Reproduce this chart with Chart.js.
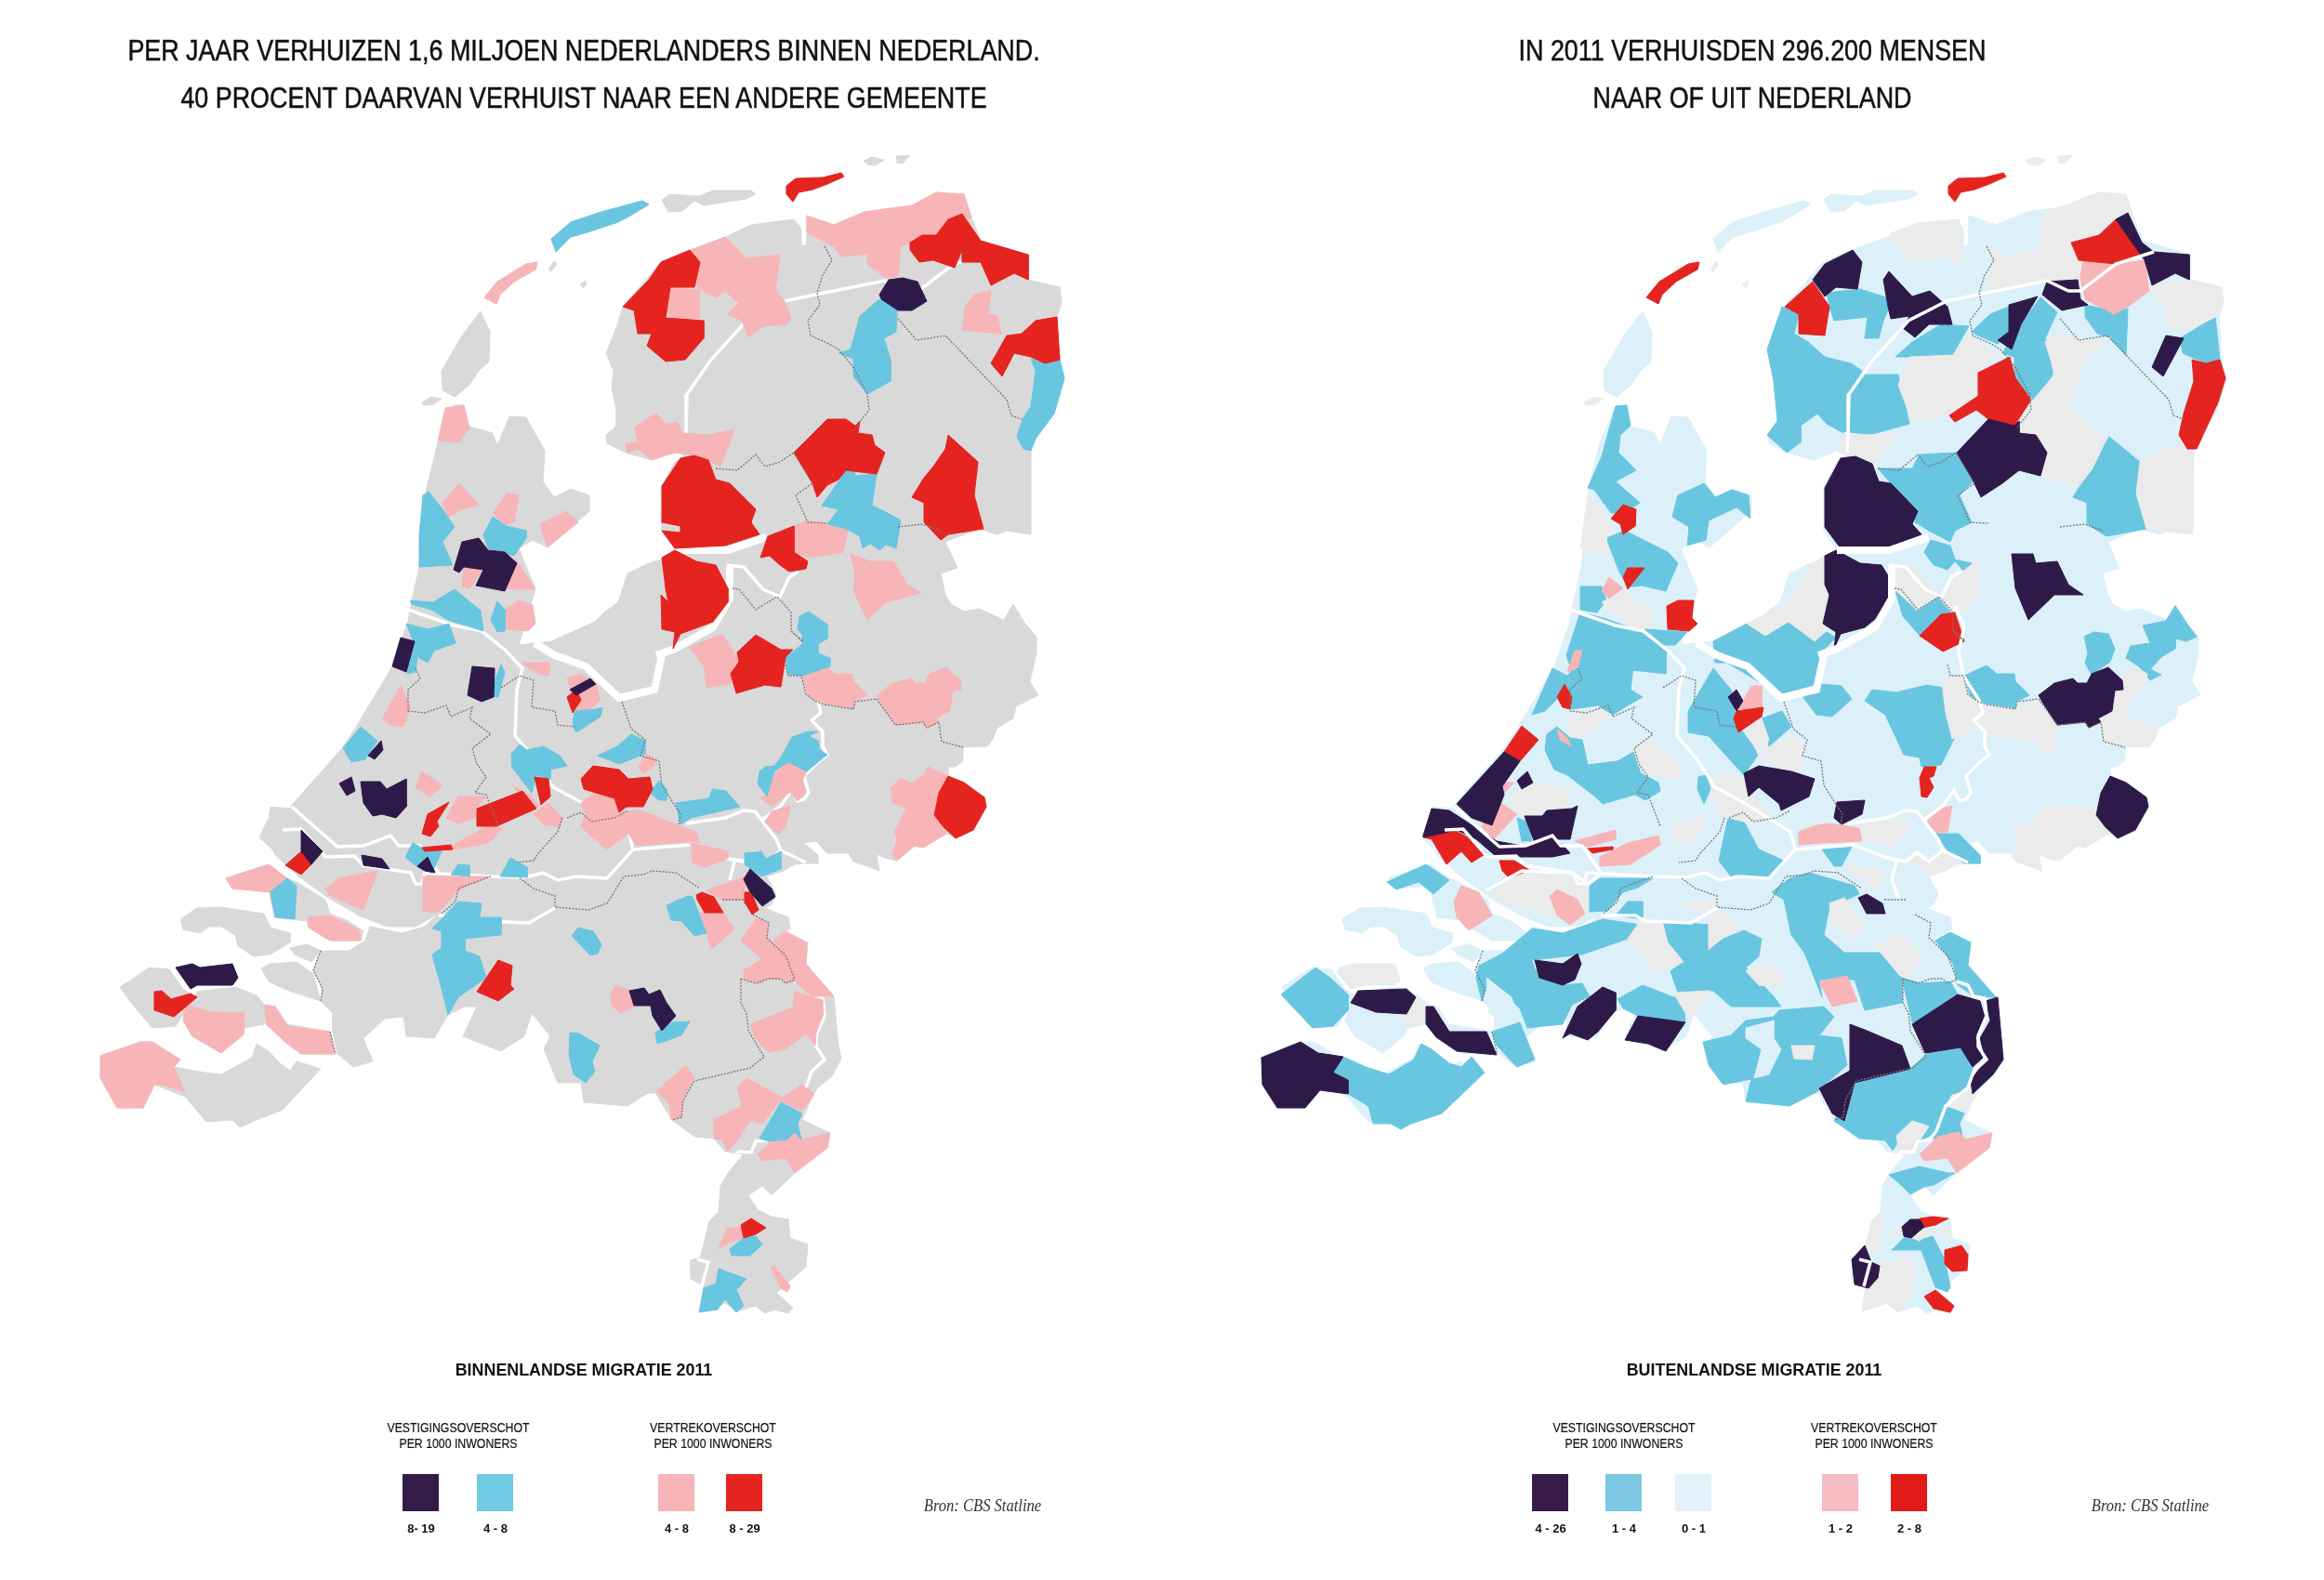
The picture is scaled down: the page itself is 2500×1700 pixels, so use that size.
<!DOCTYPE html>
<html>
<head>
<meta charset="utf-8">
<title>Migratie 2011</title>
<script src="https://cdn.jsdelivr.net/npm/chart.js@4"></script>
<style>
  html, body { margin: 0; padding: 0; background: #fff; }
  #page { position: relative; width: 2500px; height: 1700px; overflow: hidden; }
  canvas { position: absolute; top: 0; }
  .txt { position: absolute; transform: translate(-50%, -50%) scaleX(var(--sx, 1)); white-space: nowrap; color: #111; text-align: center;
         font-family: "Liberation Sans", sans-serif; }
  .title { font-size: 31px; --sx: 0.867; -webkit-text-stroke: 0.5px #111; }
  .head { font-size: 19px; font-weight: bold; --sx: 0.94; }
  .sub { font-size: 15px; --sx: 0.82; -webkit-text-stroke: 0.2px #111; }
  .range { font-size: 13px; font-weight: bold; }
  .src { font-family: "Liberation Serif", serif; font-style: italic; font-size: 18px; color: #333; --sx: 0.92; }
  .swatch { position: absolute; top: 1586px; width: 39px; height: 40px; }
</style>
</head>
<body>
<div id="page">
  <canvas id="mapLeft" width="1250" height="1700" style="left:0"></canvas>
  <canvas id="mapRight" width="1250" height="1700" style="left:1250px"></canvas>
</div>
<script>
// colours
const GRAY = '#d9d9d9', GRAY2 = '#ebebeb', LIGHT = '#dcf0f9', BLUE = '#69c6e0', PINK = '#f7b5b8', RED = '#e5231f', DARK = '#2e1a48';

// all coordinates are map units, both panels share them
const mainland = [[489,436],[471,476],[459,525],[451,610],[441,656],[439,669],[421,719],[383,782],[368,805],[314,866],[312,870],[291,868],[289,880],[279,901],[293,914],[296,920],[319,941],[350,964],[386,985],[416,997],[447,997],[472,983],[457,997],[432,1004],[398,997],[393,1012],[375,1023],[345,1023],[337,1044],[347,1064],[345,1077],[358,1090],[358,1110],[363,1134],[380,1148],[401,1142],[391,1117],[414,1096],[434,1094],[437,1115],[467,1117],[482,1092],[500,1083],[513,1083],[498,1115],[539,1131],[564,1115],[572,1090],[592,1115],[585,1129],[600,1165],[625,1165],[628,1186],[675,1190],[697,1176],[705,1176],[723,1205],[747,1223],[768,1225],[780,1239],[800,1242],[783,1262],[775,1276],[773,1304],[763,1314],[757,1339],[753,1353],[743,1356],[743,1376],[757,1384],[753,1411],[780,1402],[793,1411],[813,1405],[823,1413],[833,1409],[848,1413],[853,1407],[835,1391],[867,1363],[869,1339],[850,1332],[848,1312],[830,1309],[815,1302],[805,1286],[820,1276],[830,1286],[855,1262],[890,1235],[893,1219],[863,1205],[875,1177],[880,1170],[895,1158],[905,1139],[902,1125],[897,1072],[867,1037],[869,1014],[848,1010],[843,1002],[850,1000],[848,987],[823,977],[830,973],[835,962],[825,943],[843,937],[855,930],[863,929],[880,929],[880,920],[865,907],[878,905],[890,918],[913,918],[918,927],[933,932],[946,937],[943,919],[952,923],[965,926],[985,910],[993,912],[1018,897],[1028,902],[1047,893],[1061,868],[1059,858],[1037,842],[1020,835],[1020,825],[1028,825],[1036,818],[1036,804],[1062,803],[1068,795],[1073,783],[1090,773],[1093,760],[1117,748],[1108,733],[1115,703],[1115,685],[1102,670],[1090,650],[1080,667],[1053,655],[1037,658],[1023,650],[1017,640],[1012,617],[1030,611],[1017,583],[1053,569],[1073,575],[1083,571],[1109,575],[1109,485],[1114,472],[1134,445],[1145,407],[1140,387],[1137,341],[1142,326],[1140,309],[1106,301],[1106,274],[1055,259],[1045,234],[1037,209],[1007,207],[981,221],[930,228],[897,242],[868,232],[868,263],[862,265],[862,246],[854,236],[808,242],[780,255],[742,269],[711,282],[670,330],[663,353],[652,380],[660,399],[658,418],[663,441],[663,458],[652,468],[653,477],[673,487],[701,495],[726,485],[737,491],[726,497],[712,523],[712,571],[726,591],[711,602],[698,606],[675,617],[665,648],[650,659],[640,669],[593,690],[575,692],[558,694],[576,634],[558,590],[573,581],[589,589],[634,550],[634,533],[614,526],[596,535],[584,518],[586,485],[566,449],[548,448],[535,479],[530,466],[502,458],[499,436]];

const islands = [
  [[517,335],[527,357],[526,389],[515,399],[505,414],[489,427],[476,420],[475,399],[497,361]],
  [[521,320],[535,303],[566,284],[578,282],[576,290],[553,303],[538,317],[534,327]],
  [[593,257],[614,239],[647,228],[691,216],[698,220],[678,232],[665,239],[635,249],[614,255],[598,271]],
  [[712,215],[720,209],[752,211],[767,205],[808,205],[813,209],[803,214],[757,221],[747,216],[734,227],[719,228]],
  [[846,200],[856,192],[885,191],[905,186],[908,190],[890,198],[874,204],[859,207],[853,217],[846,209]],
  [[129,1062],[161,1041],[182,1043],[197,1064],[207,1071],[202,1083],[189,1104],[164,1106],[141,1079]],
  [[212,1067],[253,1062],[276,1071],[286,1083],[284,1102],[263,1106],[262,1113],[238,1133],[207,1115],[197,1098],[202,1081]],
  [[189,1041],[207,1037],[215,1041],[250,1037],[256,1052],[250,1060],[212,1060],[205,1064]],
  [[286,1081],[296,1083],[309,1102],[355,1110],[360,1134],[324,1134],[305,1120],[290,1100]],
  [[194,989],[212,977],[238,976],[284,983],[291,998],[312,1004],[312,1014],[291,1027],[273,1029],[256,1018],[253,1006],[238,997],[225,997],[215,1004],[197,1000]],
  [[243,945],[250,956],[289,953],[291,968],[296,987],[330,991],[332,998],[355,1012],[388,1012],[391,1002],[375,991],[355,983],[350,968],[319,949],[309,945],[289,930]],
  [[312,1020],[330,1016],[345,1023],[335,1035],[317,1027]],
  [[281,1042],[291,1037],[319,1035],[337,1048],[345,1077],[314,1067],[299,1061],[289,1056]],
  [[108,1136],[151,1121],[164,1121],[194,1140],[187,1148],[220,1154],[238,1156],[271,1138],[276,1123],[289,1131],[301,1144],[312,1152],[319,1142],[345,1150],[304,1194],[276,1205],[258,1213],[250,1205],[222,1207],[199,1180],[166,1167],[154,1192],[126,1192],[108,1160]]
];

const smallIsles = [
  [[454,433],[464,427],[475,429],[466,435],[456,436]],
  [[590,290],[596,281],[599,284],[593,292]],
  [[624,306],[630,302],[630,307],[627,310]],
  [[929,173],[938,169],[951,172],[941,178],[933,177]],
  [[964,168],[979,167],[971,176],[965,175]]
];

// water and province lines
const wideWater = [
  [[726,592],[783,592],[824,578]],
  [[785,610],[785,644],[767,675],[726,698],[706,705]],
  [[575,692],[597,705],[630,717],[666,751],[704,742],[712,705]]
];
const rivers = [
  [[314,868],[363,911],[391,910],[420,899],[429,910],[452,910],[472,939]],
  [[304,893],[324,892],[350,922],[381,921],[391,931],[442,939],[447,951],[454,951],[457,939],[528,943],[564,944],[584,939],[600,947],[620,943],[653,945],[681,914],[743,909],[786,925],[804,926]],
  [[681,914],[676,895],[625,863],[595,847],[574,815],[554,792],[556,742],[562,719],[544,700],[518,679],[488,673],[439,656]],
  [[738,886],[780,880],[800,872],[812,873],[835,903],[840,915],[867,928]],
  [[840,915],[825,927],[812,917],[800,927],[780,923]],
  [[790,927],[785,947]],
  [[880,755],[883,767],[873,775],[885,787],[885,803],[890,812],[880,820],[865,835],[870,853],[865,860],[858,862],[852,850],[840,867],[820,882]],
  [[782,608],[800,610],[821,634],[839,642],[849,621],[859,615]],
  [[844,324],[877,317],[952,302],[975,313],[988,313],[1026,284],[1067,271]],
  [[844,324],[803,345],[765,387],[739,424],[738,468],[737,487]],
  [[855,1056],[867,1060],[873,1072],[885,1074],[887,1093],[878,1114],[878,1126],[887,1140],[873,1153],[867,1170],[843,1190],[833,1217],[825,1227],[813,1228],[808,1240],[795,1239],[782,1251]],
  [[750,1355],[762,1358],[755,1384]],
  [[472,985],[509,985],[520,991],[569,993],[597,977]]
];
const riversRightOnly = [
  [[349,958],[387,937],[441,939],[458,951],[471,941]],
  [[853,652],[863,675],[857,700],[862,727],[880,755]],
  [[785,947],[793,968]]
];
const borders = [
  [[887,265],[895,280],[885,296],[879,315],[882,328],[869,345],[872,361],[892,370],[902,376],[918,395],[933,424],[935,441],[920,460]],
  [[966,343],[986,366],[1017,361],[1083,430],[1088,447],[1099,451]],
  [[770,504],[793,506],[813,489],[823,502],[839,497],[854,487],[874,520],[856,533],[869,562],[890,563]],
  [[966,567],[992,564],[1012,571]],
  [[788,633],[795,634],[813,656],[836,642],[851,659],[851,679],[864,690]],
  [[447,719],[452,730],[439,742],[439,765],[457,767],[480,759],[485,771],[508,761],[505,773],[528,790],[508,805],[513,822],[523,836],[511,853],[523,855],[536,889]],
  [[539,740],[559,727],[574,732],[572,761],[597,765],[600,780],[618,782]],
  [[669,755],[679,784],[694,796],[689,813],[709,819],[712,845],[732,876],[730,887]],
  [[605,880],[600,895],[579,918],[574,926],[556,928]],
  [[610,880],[625,874],[636,884],[661,880],[676,872]],
  [[528,943],[493,956],[490,970],[475,983]],
  [[559,945],[574,956],[597,964],[597,976],[633,979],[653,972],[671,943],[692,941],[702,937],[727,939],[753,956]],
  [[345,1023],[337,1044],[347,1064],[345,1077]],
  [[355,1110],[361,1134]],
  [[777,968],[800,968]],
  [[810,984],[827,993],[825,1009],[845,1028],[855,1054]],
  [[797,1053],[797,1079],[803,1090],[805,1109],[822,1137],[807,1149],[747,1163],[735,1184],[733,1202],[723,1205]],
  [[797,1053],[813,1058],[827,1053],[840,1053],[845,1058],[855,1054]],
  [[845,715],[848,727],[862,727],[867,747],[878,755],[887,758],[918,763],[920,755],[943,752],[963,780],[993,777],[997,783],[1010,777],[1013,798],[1036,804]],
  [[863,690],[852,680]]
];

// left panel: binnenlandse migratie
const leftPink = [
  [[521,320],[535,303],[566,284],[578,282],[576,290],[553,303],[538,317],[534,327]],
  [[868,232],[897,242],[930,228],[981,221],[1007,207],[1037,209],[1045,234],[1020,236],[1007,253],[979,261],[969,265],[966,297],[953,299],[933,284],[933,273],[905,276],[897,265],[868,250]],
  [[1038,330],[1048,317],[1066,313],[1063,338],[1073,340],[1077,359],[1035,355]],
  [[719,309],[752,312],[752,342],[724,345],[715,330]],
  [[744,269],[780,255],[803,278],[839,274],[834,313],[844,324],[851,343],[846,349],[821,351],[805,363],[798,345],[783,338],[795,326],[780,313],[770,320],[752,311],[747,303],[753,282]],
  [[673,477],[686,476],[683,460],[706,444],[716,456],[729,454],[734,466],[762,468],[790,462],[775,502],[762,495],[747,489],[726,487],[701,495],[686,483],[675,487]],
  [[854,566],[869,560],[913,567],[907,594],[872,600],[854,594]],
  [[915,596],[936,604],[961,604],[976,629],[991,638],[953,648],[933,667],[918,636],[920,617]],
  [[742,696],[777,682],[795,711],[785,736],[760,740],[757,717]],
  [[863,727],[887,716],[898,725],[917,725],[918,733],[933,748],[919,755],[918,763],[887,757],[870,750]],
  [[943,748],[960,735],[980,730],[985,735],[995,735],[1000,725],[1018,718],[1033,732],[1034,742],[1025,743],[1022,765],[1007,773],[1010,777],[997,783],[993,777],[963,780],[948,757]],
  [[958,847],[970,837],[980,843],[995,833],[998,825],[1020,835],[1010,853],[1005,877],[1018,897],[993,912],[983,910],[965,926],[960,920],[965,903],[962,895],[975,870],[960,863]],
  [[828,837],[848,820],[868,830],[863,840],[867,853],[858,862],[850,852],[830,868],[818,858],[825,857]],
  [[823,885],[830,873],[850,867],[845,890],[837,897]],
  [[476,541],[494,520],[515,543],[497,548],[482,556]],
  [[471,474],[479,439],[499,436],[505,460],[494,476]],
  [[530,552],[545,531],[558,533],[553,562],[543,564]],
  [[581,564],[609,550],[622,562],[589,589]],
  [[499,612],[520,612],[505,633],[497,630]],
  [[553,600],[576,634],[553,634],[545,633],[556,606]],
  [[543,656],[558,646],[573,651],[576,671],[568,679],[543,677]],
  [[562,713],[592,713],[590,727],[574,723]],
  [[610,730],[625,725],[641,736],[646,753],[635,763],[618,763],[615,742]],
  [[411,773],[431,738],[442,761],[434,782],[421,780]],
  [[447,847],[454,830],[476,845],[462,857]],
  [[480,880],[493,857],[523,857],[511,870],[511,880],[493,886]],
  [[551,845],[572,857],[579,868],[572,870]],
  [[574,876],[590,864],[605,880],[602,890],[585,887]],
  [[687,826],[694,811],[707,817],[702,826],[692,832]],
  [[625,889],[630,876],[625,864],[643,851],[664,861],[666,874],[689,872],[727,887],[748,895],[753,907],[746,905],[685,910],[676,897],[653,914],[635,899]],
  [[743,907],[783,916],[783,924],[758,933],[745,928]],
  [[760,958],[802,943],[800,968],[777,968]],
  [[753,982],[778,982],[790,1000],[765,1021],[760,1004]],
  [[657,1068],[663,1060],[677,1065],[682,1082],[668,1090],[658,1082]],
  [[706,1174],[738,1146],[747,1160],[735,1181],[733,1202],[722,1205],[720,1188]],
  [[768,1205],[798,1190],[793,1170],[803,1160],[842,1181],[820,1209],[808,1205],[792,1228],[782,1239],[777,1226],[768,1225]],
  [[842,1181],[862,1167],[876,1177],[863,1195],[840,1185]],
  [[815,1242],[835,1223],[857,1218],[865,1226],[893,1219],[890,1235],[855,1262],[845,1246],[820,1249]],
  [[773,1344],[782,1321],[798,1321],[800,1332],[783,1337]],
  [[829,1363],[833,1362],[850,1384],[847,1390],[840,1386]],
  [[800,1044],[820,1032],[797,1012],[813,988],[827,993],[825,1009],[845,1028],[855,1054],[845,1058],[840,1053],[827,1053],[817,1058],[800,1053]],
  [[832,1012],[845,1002],[868,1014],[867,1037],[897,1072],[873,1072],[855,1056],[845,1028]],
  [[807,1102],[853,1084],[855,1067],[872,1072],[885,1076],[885,1093],[878,1111],[877,1125],[867,1112],[847,1128],[827,1132],[813,1118]],
  [[485,911],[523,889],[541,891],[526,907],[488,914]],
  [[243,945],[289,930],[309,945],[291,960],[250,956]],
  [[331,987],[355,985],[386,1000],[388,1012],[355,1012],[332,998]],
  [[350,956],[365,945],[406,937],[391,979],[355,964]],
  [[455,943],[526,943],[493,958],[472,981],[455,981]],
  [[197,1098],[199,1081],[228,1089],[263,1090],[262,1113],[238,1133],[207,1115]],
  [[285,1081],[296,1083],[309,1104],[355,1110],[360,1134],[324,1134],[307,1121],[286,1102]],
  [[108,1136],[151,1121],[164,1121],[194,1140],[187,1148],[199,1175],[174,1167],[166,1167],[154,1192],[126,1192],[108,1160]]
];
const leftBlue = [
  [[593,257],[614,239],[647,228],[691,216],[698,220],[678,232],[665,239],[635,249],[614,255],[598,271]],
  [[1035,269],[1040,261],[1055,259],[1055,282],[1035,282]],
  [[946,322],[965,334],[964,357],[951,364],[958,387],[958,410],[933,424],[918,405],[918,386],[902,380],[915,376],[925,340]],
  [[1109,386],[1124,391],[1140,387],[1145,407],[1134,445],[1114,472],[1109,485],[1101,483],[1094,470],[1100,451],[1109,437],[1114,399]],
  [[884,544],[905,514],[910,506],[918,504],[920,512],[943,510],[938,544],[951,550],[969,560],[964,590],[953,586],[946,592],[936,585],[928,590],[925,577],[910,569],[890,564],[902,548]],
  [[860,663],[870,658],[890,672],[890,687],[880,693],[880,703],[893,708],[893,717],[863,727],[848,725],[845,708],[863,693],[863,683],[858,677]],
  [[840,815],[852,793],[870,787],[880,787],[870,792],[880,797],[882,807],[890,812],[880,820],[868,830],[848,820],[833,830],[825,857],[815,843],[817,830],[823,825],[833,824]],
  [[727,864],[763,859],[766,849],[781,851],[796,868],[743,880],[732,887]],
  [[455,533],[461,529],[476,548],[489,567],[476,583],[487,608],[451,610],[451,575]],
  [[520,575],[530,556],[545,566],[566,571],[566,579],[553,598],[525,590]],
  [[441,646],[466,648],[489,634],[517,657],[520,679],[482,667],[464,656],[443,650]],
  [[528,667],[535,647],[543,656],[543,679],[535,680]],
  [[437,671],[460,677],[483,671],[490,692],[467,700],[460,713],[449,707],[447,723],[438,725],[444,688]],
  [[539,715],[543,723],[536,750],[526,748]],
  [[618,765],[641,763],[648,761],[646,771],[620,788],[616,780]],
  [[369,805],[388,782],[406,797],[393,817],[378,820]],
  [[550,811],[559,801],[567,807],[585,803],[602,813],[610,824],[592,828],[592,838],[577,834],[572,853],[551,826]],
  [[643,813],[664,803],[679,790],[694,797],[694,811],[666,822]],
  [[699,853],[709,840],[717,849],[717,861],[709,861]],
  [[801,918],[819,916],[824,924],[840,916],[840,935],[819,943],[801,930]],
  [[717,974],[740,964],[745,965],[760,1004],[747,1007],[733,991],[722,990]],
  [[615,1007],[622,998],[638,1002],[647,1016],[643,1026],[635,1028]],
  [[705,1111],[723,1100],[742,1099],[733,1114],[707,1123]],
  [[613,1111],[623,1112],[645,1125],[637,1142],[640,1153],[630,1165],[617,1156],[612,1135]],
  [[817,1225],[840,1186],[863,1198],[858,1209],[862,1226],[855,1218],[847,1226],[827,1228]],
  [[785,1344],[800,1332],[813,1330],[820,1339],[807,1351],[787,1351]],
  [[752,1412],[757,1386],[770,1381],[773,1365],[803,1376],[792,1388],[800,1405],[792,1412],[780,1398],[772,1409]],
  [[436,922],[444,907],[457,914],[475,916],[465,939],[449,933]],
  [[485,941],[493,930],[505,931],[505,943]],
  [[538,943],[549,923],[567,933],[567,944]],
  [[291,960],[309,945],[319,953],[317,989],[296,987]],
  [[465,999],[493,970],[518,972],[516,987],[539,987],[539,1006],[500,1010],[500,1023],[516,1029],[523,1052],[493,1073],[482,1092],[475,1064],[465,1027],[475,1020],[475,1002]]
];
const leftRed = [
  [[846,200],[856,192],[885,191],[905,186],[908,190],[890,198],[874,204],[859,207],[853,217],[846,209]],
  [[979,261],[992,253],[1007,253],[1020,236],[1035,230],[1055,259],[1106,274],[1106,301],[1091,294],[1066,307],[1055,282],[1035,282],[1035,269],[1027,288],[1004,280],[989,282],[979,269]],
  [[1066,391],[1083,361],[1099,359],[1114,345],[1137,341],[1140,387],[1124,391],[1109,384],[1091,380],[1078,405]],
  [[670,330],[698,301],[711,282],[742,269],[753,282],[747,309],[721,309],[716,342],[757,345],[757,364],[737,387],[716,389],[696,372],[701,359],[686,359],[682,334]],
  [[854,487],[890,451],[910,451],[920,458],[925,453],[923,466],[938,468],[941,479],[952,487],[943,510],[910,506],[902,516],[890,522],[879,535],[874,520]],
  [[981,535],[994,514],[1004,502],[1017,483],[1020,468],[1052,497],[1048,533],[1058,569],[1020,575],[1012,581],[994,562],[994,541]],
  [[732,493],[747,490],[762,495],[770,516],[785,520],[813,548],[808,562],[817,575],[780,587],[726,590],[712,571],[732,573],[732,566],[712,562],[712,523]],
  [[818,600],[826,577],[854,566],[854,594],[869,604],[867,612],[849,615],[839,608],[828,598]],
  [[726,592],[749,604],[770,608],[783,633],[783,648],[767,669],[732,682],[724,698],[726,680],[712,677],[711,640],[719,648],[716,633],[712,600]],
  [[793,702],[813,683],[840,699],[853,699],[845,707],[840,739],[823,737],[792,746],[786,725],[795,712]],
  [[1020,835],[1037,842],[1059,858],[1061,868],[1047,893],[1028,902],[1015,890],[1005,877],[1010,853]],
  [[610,750],[620,742],[625,753],[616,767]],
  [[454,897],[460,876],[483,863],[470,884],[472,889],[463,900]],
  [[513,870],[562,851],[577,870],[534,889],[513,889]],
  [[575,836],[590,838],[592,857],[582,866]],
  [[625,838],[638,824],[666,828],[676,838],[699,836],[702,849],[692,868],[674,868],[666,874],[661,859],[641,853],[628,849]],
  [[801,960],[808,960],[816,979],[809,984],[802,972]],
  [[749,963],[755,960],[768,965],[778,982],[758,982],[750,968]],
  [[797,1318],[808,1311],[824,1321],[813,1328],[800,1332]],
  [[307,931],[324,916],[337,928],[324,941]],
  [[454,912],[485,909],[487,914],[457,916]],
  [[513,1067],[536,1033],[551,1039],[549,1060],[553,1064],[536,1077]],
  [[166,1067],[174,1066],[184,1075],[205,1069],[212,1073],[187,1094],[166,1087]]
];
const leftDark = [
  [[946,317],[956,301],[971,299],[987,303],[997,324],[981,334],[966,334],[948,322]],
  [[488,613],[497,583],[515,579],[525,592],[543,594],[556,606],[543,636],[512,630],[520,613],[499,610],[494,616]],
  [[431,686],[446,690],[437,723],[422,717]],
  [[508,717],[532,719],[531,750],[518,755],[503,748]],
  [[613,742],[635,730],[641,736],[620,748]],
  [[396,813],[410,797],[412,807],[403,817]],
  [[365,843],[378,836],[382,851],[373,856]],
  [[388,841],[409,841],[416,849],[437,838],[437,868],[426,880],[411,876],[401,878],[391,864]],
  [[800,946],[807,935],[830,956],[834,965],[820,975],[807,960]],
  [[677,1066],[693,1063],[698,1070],[710,1065],[717,1079],[727,1093],[712,1109],[702,1093],[700,1082],[682,1082]],
  [[324,893],[347,916],[335,930],[324,916]],
  [[389,920],[411,924],[419,935],[391,931]],
  [[449,932],[460,922],[468,939],[457,937]],
  [[189,1041],[207,1037],[215,1041],[250,1037],[256,1052],[250,1060],[212,1060],[205,1064]]
];

// right panel: buitenlandse migratie (land base is the 0-1 class)
const rightBlue = [
  [[1098,380],[1095,364],[1133,341],[1138,387],[1123,391]],
  [[667,330],[685,338],[680,359],[695,368],[713,384],[741,391],[753,399],[738,426],[733,466],[715,456],[705,445],[687,458],[687,476],[672,487],[651,468],[662,453],[658,410],[651,376]],
  [[715,315],[751,311],[776,319],[794,324],[781,334],[776,345],[771,364],[756,364],[759,341],[723,345],[718,330]],
  [[738,426],[756,403],[792,403],[804,456],[761,468],[733,464]],
  [[789,384],[807,368],[838,349],[868,351],[850,382],[817,384]],
  [[871,357],[891,338],[911,330],[911,357],[899,370],[878,361]],
  [[904,380],[924,349],[945,320],[963,336],[950,364],[960,387],[957,410],[937,430],[917,407],[917,384]],
  [[993,328],[1021,334],[1039,332],[1037,382],[1019,363],[1006,359],[993,341]],
  [[770,504],[807,504],[815,489],[855,487],[876,514],[858,533],[871,562],[853,571],[848,583],[825,571],[810,562],[812,548],[784,520]],
  [[713,566],[731,561],[732,573],[720,575]],
  [[593,690],[629,671],[649,684],[674,669],[702,690],[715,680],[725,686],[710,701],[705,736],[664,747],[608,713],[595,713]],
  [[789,636],[812,657],[835,642],[850,659],[817,686],[797,663]],
  [[820,594],[827,581],[848,587],[853,602],[871,606],[863,615],[853,604],[845,613],[830,608]],
  [[980,535],[1019,470],[1052,497],[1048,531],[1059,569],[1016,577],[995,564],[995,541]],
  [[1055,673],[1080,668],[1090,652],[1102,670],[1113,685],[1102,690],[1090,687],[1090,698],[1075,707],[1063,720],[1075,726],[1063,732],[1052,718],[1037,708],[1042,695],[1063,692]],
  [[992,685],[1002,680],[1018,682],[1025,698],[1020,712],[1000,726],[993,713],[996,703]],
  [[863,727],[887,716],[898,725],[917,725],[918,733],[933,748],[919,755],[918,763],[887,757],[870,750]],
  [[756,754],[764,742],[790,745],[823,737],[840,740],[843,767],[852,795],[838,823],[817,825],[815,815],[798,812],[778,769]],
  [[832,897],[857,897],[880,920],[880,929],[863,929],[845,915]],
  [[473,491],[488,437],[500,436],[504,458],[493,468],[491,487],[510,506],[488,518],[514,541],[498,552],[483,552],[465,527],[458,525]],
  [[478,579],[498,571],[514,579],[544,594],[555,606],[542,636],[516,630],[501,632],[491,613]],
  [[450,631],[473,631],[478,646],[468,659],[450,656]],
  [[555,533],[583,520],[595,535],[613,527],[631,533],[633,558],[618,546],[588,560],[585,581],[565,587],[567,567],[549,556]],
  [[519,677],[565,680],[552,694],[532,694]],
  [[450,659],[475,665],[514,679],[542,701],[542,725],[506,721],[450,750],[435,705]],
  [[398,769],[420,719],[436,727],[450,711],[469,700],[544,700],[539,711],[507,719],[504,742],[517,750],[501,759],[485,769],[469,759],[441,763],[431,746],[412,765]],
  [[414,790],[425,782],[439,794],[452,796],[458,823],[490,819],[507,809],[515,832],[534,842],[536,851],[520,861],[509,855],[474,865],[466,857],[436,834],[422,828],[412,807]],
  [[382,880],[393,884],[398,905],[387,905]],
  [[599,926],[609,880],[626,884],[642,914],[669,926],[653,945],[612,943]],
  [[577,836],[585,834],[590,849],[583,865],[576,849]],
  [[566,765],[593,719],[612,742],[618,778],[642,811],[626,834],[588,792],[566,788]],
  [[645,773],[667,765],[677,782],[653,803]],
  [[688,748],[707,736],[731,738],[742,752],[721,771],[704,769]],
  [[710,914],[742,911],[731,932],[723,932]],
  [[341,1039],[366,1026],[398,999],[431,1004],[474,989],[515,995],[501,1010],[452,1027],[398,1033],[401,1043],[431,1060],[452,1058],[460,1072],[441,1081],[431,1102],[393,1106],[385,1085],[352,1054],[344,1077],[338,1052]],
  [[490,1075],[517,1060],[561,1077],[563,1100],[512,1093],[496,1085]],
  [[539,991],[588,995],[588,1022],[604,1010],[626,1001],[645,1010],[642,1029],[628,1041],[658,1072],[666,1083],[612,1083],[593,1066],[555,1068],[547,1045],[561,1035],[544,1014]],
  [[656,960],[675,945],[696,939],[745,953],[750,962],[718,976],[712,1006],[734,1025],[777,1025],[796,1052],[796,1079],[756,1087],[745,1054],[707,1054],[710,1073],[691,1025],[677,1006],[669,968]],
  [[796,1052],[815,1058],[848,1056],[856,1070],[853,1083],[807,1100]],
  [[832,1012],[848,1003],[870,1014],[867,1039],[897,1073],[875,1073],[856,1060],[851,1037]],
  [[723,1206],[737,1181],[745,1165],[805,1150],[824,1133],[856,1125],[872,1146],[870,1167],[848,1186],[829,1221],[815,1227],[821,1209],[805,1207],[791,1230],[786,1238],[778,1227],[750,1225]],
  [[582,1121],[612,1114],[628,1098],[658,1094],[664,1087],[712,1083],[723,1094],[707,1114],[731,1117],[737,1146],[704,1175],[675,1190],[628,1185],[634,1161],[604,1167],[588,1146]],
  [[128,1070],[165,1041],[181,1052],[200,1070],[200,1087],[184,1104],[162,1106]],
  [[355,1110],[385,1100],[401,1140],[382,1148],[360,1125]],
  [[184,1154],[195,1137],[219,1148],[244,1156],[271,1140],[279,1123],[290,1129],[309,1144],[322,1148],[333,1137],[347,1154],[301,1198],[268,1209],[257,1215],[246,1209],[227,1209],[222,1190],[200,1177],[200,1162]],
  [[242,949],[284,930],[309,947],[292,962],[276,949],[252,957]],
  [[460,953],[471,945],[528,945],[512,955],[496,960],[479,980],[460,981]],
  [[488,985],[501,970],[517,970],[517,989]],
  [[815,1217],[830,1195],[843,1190],[863,1198],[858,1209],[862,1226],[850,1218],[832,1226]],
  [[782,1264],[815,1255],[845,1262],[853,1262],[830,1275],[820,1277],[805,1285],[795,1275]],
  [[800,1330],[815,1328],[827,1345],[808,1345],[785,1345]],
  [[813,1335],[829,1330],[842,1355],[848,1385],[845,1390],[832,1385]]
];
const rightGray = [
  [[454,433],[464,427],[475,429],[466,435],[456,436]],
  [[590,290],[596,281],[599,284],[593,292]],
  [[624,306],[630,302],[630,307],[627,310]],
  [[929,173],[938,169],[951,172],[941,178],[933,177]],
  [[964,168],[979,167],[971,176],[965,175]],
  [[784,251],[812,240],[858,236],[861,265],[858,282],[838,276],[807,282],[784,257]],
  [[942,269],[950,230],[996,211],[1011,207],[1037,211],[1044,232],[1026,236],[1008,253],[980,261],[988,280],[988,299],[960,301],[950,303],[884,315],[894,280],[889,265],[909,276]],
  [[1065,307],[1105,301],[1138,309],[1141,326],[1133,341],[1098,359],[1075,341],[1080,330],[1062,315]],
  [[950,368],[965,357],[988,366],[1021,363],[996,384],[975,437],[1016,472],[1001,504],[985,525],[924,506],[952,487],[940,468],[922,464],[935,433],[960,403],[955,384]],
  [[792,414],[804,384],[853,382],[868,361],[899,380],[878,401],[878,426],[850,445],[807,454]],
  [[733,466],[761,468],[789,464],[776,491],[766,495],[751,491],[730,487]],
  [[629,671],[674,648],[700,606],[713,598],[713,629],[718,640],[711,667],[713,680],[702,690],[674,669],[649,684]],
  [[784,611],[807,608],[830,634],[838,644],[848,625],[878,602],[881,636],[868,655],[853,663],[835,642],[812,657],[794,635],[787,636]],
  [[1048,531],[1052,497],[1108,470],[1110,483],[1108,575],[1072,571],[1059,569]],
  [[1033,728],[1047,718],[1060,725],[1057,740],[1040,752],[1037,768],[1050,778],[1073,783],[1068,795],[1062,803],[1013,800],[1007,773],[1022,765],[1025,743]],
  [[880,757],[920,763],[943,752],[963,782],[958,792],[963,810],[947,812],[938,797],[920,795],[897,792],[885,787],[873,775],[883,767]],
  [[840,727],[862,727],[867,747],[880,757],[883,767],[873,775],[877,783],[850,795],[843,767],[840,743]],
  [[913,888],[937,888],[947,870],[960,867],[1005,868],[1005,877],[1018,897],[993,912],[985,910],[965,926],[952,923],[943,919],[946,937],[933,932],[918,927],[915,917],[923,907],[917,897]],
  [[803,923],[813,917],[825,927],[840,915],[855,928],[843,937],[823,943]],
  [[780,885],[800,888],[790,907],[780,917]],
  [[450,590],[458,533],[475,552],[486,571],[478,579],[478,598]],
  [[473,648],[496,636],[511,648],[529,654],[527,675],[511,677]],
  [[436,769],[469,763],[485,769],[474,779],[452,792],[439,792]],
  [[382,849],[403,842],[425,849],[439,842],[436,872],[414,872],[406,878],[390,878],[371,865]],
  [[507,801],[528,796],[555,819],[558,838],[523,834],[512,823]],
  [[552,888],[577,876],[585,888],[566,914],[550,899]],
  [[590,853],[599,830],[626,838],[653,880],[642,888],[601,878]],
  [[626,780],[645,773],[653,796],[642,813]],
  [[647,807],[677,792],[693,803],[688,830],[677,830],[645,817]],
  [[737,891],[794,880],[805,891],[788,911],[753,905]],
  [[734,930],[778,937],[772,957],[745,941]],
  [[501,1010],[517,987],[539,995],[544,1014],[561,1035],[528,1047],[512,1022]],
  [[588,987],[604,981],[623,999],[601,1010],[588,1022]],
  [[628,1045],[647,1035],[666,1045],[669,1062],[642,1060]],
  [[550,1068],[590,1066],[572,1094],[563,1090]],
  [[718,972],[734,966],[756,995],[745,1010],[721,995]],
  [[767,1018],[794,1003],[818,1029],[805,1052],[794,1050]],
  [[677,1125],[702,1125],[699,1140],[680,1139]],
  [[187,1045],[211,1037],[249,1037],[256,1056],[216,1060],[203,1064]],
  [[257,1091],[273,1073],[287,1079],[282,1102],[263,1102]],
  [[352,962],[387,939],[441,945],[458,953],[458,980],[447,991],[404,981],[371,972]],
  [[558,976],[577,968],[599,972],[588,980]],
  [[790,1222],[807,1206],[825,1212],[815,1227],[808,1240],[792,1235]],
  [[850,1178],[875,1172],[875,1182],[863,1195],[843,1190]],
  [[763,1314],[780,1305],[770,1350],[757,1339],[762,1320]],
  [[757,1384],[768,1360],[808,1353],[812,1372],[800,1405],[792,1412],[780,1402],[753,1411]],
  [[783,1328],[785,1322],[800,1318],[820,1325],[848,1320],[850,1332],[827,1325],[815,1335],[800,1330]]
];
const rightLightPatch = [
  [[628,1106],[658,1098],[658,1117],[666,1129],[653,1156],[637,1160],[645,1129],[628,1117]],
  [[349,1052],[376,1073],[385,1098],[366,1100],[352,1090]]
];
const rightPink = [
  [[988,299],[991,280],[1008,282],[1026,284],[1057,280],[1062,313],[1039,330],[1024,338],[993,322]],
  [[473,636],[481,621],[496,633],[481,644]],
  [[436,723],[444,700],[452,700],[447,719]],
  [[425,784],[436,794],[440,803],[428,796]],
  [[344,890],[366,842],[379,842],[360,861],[382,876],[357,903]],
  [[444,905],[488,893],[488,903],[458,911]],
  [[471,932],[471,922],[501,907],[534,899],[536,909],[504,930]],
  [[620,763],[634,738],[645,738],[645,761]],
  [[685,895],[704,888],[718,886],[750,891],[753,905],[710,907],[685,909]],
  [[823,885],[830,872],[850,867],[845,895],[833,896]],
  [[707,1056],[737,1050],[748,1077],[721,1083]],
  [[314,970],[322,953],[341,960],[355,985],[330,1001],[317,987]],
  [[417,964],[425,957],[447,968],[455,983],[439,995],[425,985]],
  [[815,1242],[835,1223],[857,1218],[865,1226],[893,1219],[890,1235],[855,1262],[845,1246],[820,1249]]
];
const rightRed = [
  [[846,200],[856,192],[885,191],[905,186],[908,190],[890,198],[874,204],[859,207],[853,217],[846,209]],
  [[521,320],[535,303],[566,284],[578,282],[576,290],[553,303],[538,317],[534,327]],
  [[978,261],[1008,253],[1026,236],[1054,261],[1054,276],[1026,284],[986,280]],
  [[1108,387],[1123,391],[1138,387],[1144,407],[1136,433],[1113,483],[1103,483],[1094,468],[1099,445],[1110,410]],
  [[670,330],[700,303],[718,330],[713,361],[685,359],[685,338]],
  [[847,447],[878,426],[878,401],[912,384],[918,407],[935,430],[917,458],[889,451],[876,441],[853,454]],
  [[815,684],[838,661],[853,659],[863,690],[840,701]],
  [[815,837],[820,825],[833,825],[830,835],[825,837],[830,847],[823,858],[817,857]],
  [[483,558],[496,543],[510,548],[509,566],[496,575],[493,564]],
  [[496,621],[501,611],[519,611],[501,634]],
  [[543,652],[555,646],[572,646],[570,665],[576,671],[567,679],[544,677]],
  [[425,750],[433,736],[441,750],[439,763],[431,761]],
  [[368,809],[387,781],[405,796],[385,819]],
  [[282,901],[314,893],[333,903],[349,918],[333,928],[322,916],[306,930],[290,903]],
  [[363,926],[379,926],[395,936],[374,945],[366,937]],
  [[458,913],[485,911],[485,914],[463,918]],
  [[615,773],[618,765],[647,761],[645,771],[620,788]],
  [[815,1311],[830,1309],[846,1311],[832,1318],[818,1321]],
  [[842,1345],[860,1340],[867,1350],[866,1367],[850,1368],[842,1360]],
  [[820,1395],[832,1388],[852,1405],[848,1412],[830,1408]]
];
const rightDark = [
  [[1026,236],[1039,229],[1054,261],[1067,271],[1105,274],[1105,301],[1090,294],[1065,307],[1057,280]],
  [[1065,395],[1080,361],[1099,364],[1077,405]],
  [[700,301],[713,284],[743,269],[753,282],[748,311],[725,309],[713,319]],
  [[776,301],[782,292],[807,319],[826,313],[845,330],[850,349],[825,349],[810,363],[797,353],[804,340],[784,343],[781,330]],
  [[899,366],[911,357],[911,328],[942,319],[924,349],[914,376]],
  [[947,317],[952,303],[985,301],[988,322],[996,328],[968,334]],
  [[855,487],[889,451],[917,458],[922,453],[922,466],[940,468],[952,487],[945,512],[922,506],[904,520],[881,535],[873,518]],
  [[730,493],[746,491],[764,499],[771,518],[784,520],[813,550],[807,564],[817,575],[776,590],[730,590],[713,567],[731,561],[732,573],[720,575],[713,567],[713,525]],
  [[713,598],[725,592],[751,606],[774,608],[782,621],[784,640],[771,663],[756,675],[730,682],[723,698],[725,680],[711,671],[718,640],[713,629]],
  [[914,596],[937,596],[940,606],[963,604],[975,629],[991,640],[960,640],[932,667],[918,633]],
  [[943,748],[960,735],[980,730],[985,735],[995,735],[1000,725],[1018,718],[1033,732],[1034,742],[1025,743],[1022,765],[1007,773],[1010,777],[997,783],[993,777],[963,780],[948,757]],
  [[1020,835],[1037,842],[1059,858],[1061,868],[1047,893],[1028,902],[1015,890],[1005,877],[1010,853]],
  [[317,865],[368,809],[385,819],[366,846],[368,855],[355,888],[333,880]],
  [[281,899],[290,870],[309,872],[360,905],[393,911],[414,899],[431,909],[439,918],[420,922],[360,922],[338,903],[317,893],[281,901]],
  [[390,878],[409,878],[414,872],[441,870],[447,867],[439,903],[414,903],[401,907]],
  [[382,840],[393,830],[399,842],[387,849]],
  [[626,832],[642,824],[677,830],[702,838],[696,857],[666,872],[664,865],[642,847],[631,857]],
  [[609,750],[618,742],[625,754],[618,765]],
  [[726,863],[756,861],[753,876],[731,887],[723,880]],
  [[749,966],[758,962],[775,972],[778,983],[758,983]],
  [[401,1033],[431,1037],[447,1026],[451,1037],[444,1054],[431,1060],[406,1052]],
  [[431,1117],[447,1083],[474,1062],[488,1068],[488,1087],[469,1110],[458,1119],[439,1112]],
  [[498,1119],[512,1093],[563,1100],[542,1131],[523,1123]],
  [[807,1102],[856,1070],[880,1077],[886,1098],[875,1117],[883,1138],[872,1148],[859,1127],[821,1133]],
  [[886,1077],[899,1073],[905,1140],[894,1156],[872,1177],[870,1163],[886,1140],[880,1117],[891,1098]],
  [[707,1171],[740,1152],[740,1102],[756,1108],[796,1125],[805,1150],[745,1165],[734,1206],[721,1198]],
  [[203,1079],[211,1066],[263,1064],[273,1073],[263,1091],[230,1089]],
  [[284,1083],[292,1083],[309,1110],[349,1110],[360,1135],[317,1131],[295,1116],[284,1102]],
  [[107,1138],[149,1121],[168,1133],[195,1137],[184,1154],[200,1162],[200,1177],[170,1173],[154,1192],[124,1192],[108,1167]],
  [[796,1320],[805,1312],[815,1312],[820,1320],[806,1332],[798,1330]],
  [[742,1355],[756,1340],[763,1358],[772,1362],[770,1375],[760,1386],[745,1382]]
];

// legend texts and classes
const titlesLeft = ['PER JAAR VERHUIZEN 1,6 MILJOEN NEDERLANDERS BINNEN NEDERLAND.', '40 PROCENT DAARVAN VERHUIST NAAR EEN ANDERE GEMEENTE'];
const titlesRight = ['IN 2011 VERHUISDEN 296.200 MENSEN', 'NAAR OF UIT NEDERLAND'];
const legendLeft = [[453,'#331c4a','8- 19'],[533,'#6ec9e3','4 - 8'],[728,'#f7b5b8','4 - 8'],[801,'#e5251f','8 - 29']];
const legendRight = [[1668,'#361a48','4 - 26'],[1747,'#7cc8e4','1 - 4'],[1822,'#e3f2fb','0 - 1'],[1980,'#f5bcc2','1 - 2'],[2054,'#e01b17','2 - 8']];

function polygon(points, color) {
  return {
    data: points.concat([points[0]]).map(p => ({x: p[0], y: p[1]})),
    showLine: true, fill: 'shape', backgroundColor: color, borderColor: color,
    borderWidth: 1, pointRadius: 0, tension: 0
  };
}
function line(points, color, width, dash) {
  return {
    data: points.map(p => ({x: p[0], y: p[1]})),
    showLine: true, fill: false, borderColor: color, borderWidth: width,
    borderDash: dash || [], pointRadius: 0, tension: 0
  };
}
const polys = (list, color) => list.map(p => polygon(p, color));
const lines = (list, color, width, dash) => list.map(p => line(p, color, width, dash));

function drawMap(id, layers) {
  new Chart(document.getElementById(id), {
    type: 'scatter',
    // the first dataset is painted last, so flip the bottom-up list
    data: { datasets: layers.slice().reverse() },
    options: {
      responsive: false,
      animation: false,
      layout: { padding: 0 },
      plugins: { legend: { display: false }, tooltip: { enabled: false } },
      scales: {
        x: { type: 'linear', min: 0, max: 1250, display: false },
        y: { type: 'linear', min: 0, max: 1700, reverse: true, display: false }
      }
    }
  });
}

const water = lines(wideWater, '#fff', 8).concat(lines(rivers, '#fff', 3.5));
const dotted = lines(borders, '#777', 1.3, [2, 1.5]);

drawMap('mapLeft', [].concat(
  polys([mainland], GRAY), polys(islands, GRAY), polys(smallIsles, GRAY),
  water, polys(leftPink, PINK), polys(leftBlue, BLUE), polys(leftRed, RED), polys(leftDark, DARK), dotted
));
drawMap('mapRight', [].concat(
  polys([mainland], LIGHT), polys(islands, LIGHT), polys(rightBlue, BLUE), polys(rightGray, GRAY2),
  polys(rightLightPatch, LIGHT), polys(rightPink, PINK), polys(rightRed, RED), polys(rightDark, DARK),
  water, lines(riversRightOnly, '#fff', 3.5), dotted
));

function addText(text, cls, x, y) {
  const el = document.createElement('div');
  el.className = 'txt ' + cls;
  el.textContent = text;
  el.style.left = x + 'px';
  el.style.top = y + 'px';
  document.getElementById('page').appendChild(el);
}
function addLegend(items) {
  items.forEach(item => {
    const sw = document.createElement('div');
    sw.className = 'swatch';
    sw.style.left = (item[0] - 20) + 'px';
    sw.style.background = item[1];
    document.getElementById('page').appendChild(sw);
    addText(item[2], 'range', item[0], 1644);
  });
}
titlesLeft.forEach((t, i) => addText(t, 'title', 628, 55 + i * 51));
titlesRight.forEach((t, i) => addText(t, 'title', 1885, 55 + i * 51));
addText('BINNENLANDSE MIGRATIE 2011', 'head', 628, 1474);
addText('BUITENLANDSE MIGRATIE 2011', 'head', 1887, 1474);
[[493, 767], [1747, 2016]].forEach(xs => xs.forEach((x, i) => {
  addText(i ? 'VERTREKOVERSCHOT' : 'VESTIGINGSOVERSCHOT', 'sub', x, 1535);
  addText('PER 1000 INWONERS', 'sub', x, 1552);
}));
addLegend(legendLeft);
addLegend(legendRight);
addText('Bron: CBS Statline', 'src', 1057, 1620);
addText('Bron: CBS Statline', 'src', 2313, 1620);
</script>
</body>
</html>
